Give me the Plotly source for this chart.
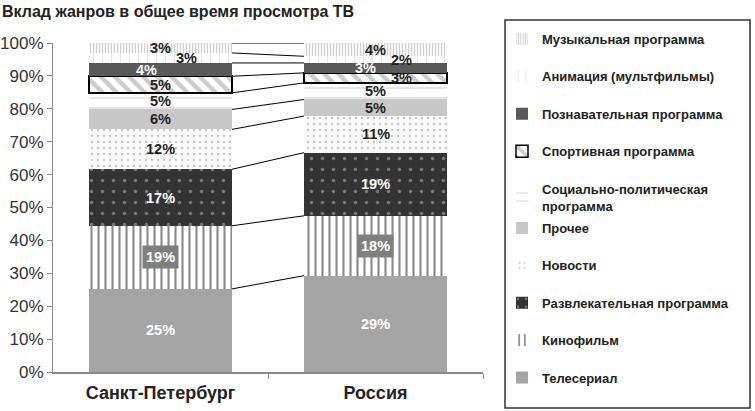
import plotly.graph_objects as go
import numpy as np

categories = ["Санкт-Петербург", "Россия"]
genres = ["Телесериал", "Кинофильм", "Развлекательная программа", "Новости", "Прочее",
          "Социально-политическая<br>программа", "Спортивная программа",
          "Познавательная программа", "Анимация (мультфильмы)", "Музыкальная программа"]
spb = [25, 19, 17, 12, 6, 5, 5, 4, 3, 3]
rus = [29, 18, 19, 11, 5, 5, 3, 3, 2, 4]
tick_labels = ["0%", "10%", "20%", "30%", "40%", "50%", "60%", "70%", "80%", "90%", "100%"]

FONT = "Arial, Liberation Sans, sans-serif"

styles = [
    dict(color="#a5a5a5", pattern=None, line=0, txt="white", box=None, xs=0),
    dict(color="white", pattern=dict(shape="|", fgcolor="#111", bgcolor="white", size=7, solidity=0.3), line=0, txt="white", box="#7f7f7f", xs=0),
    dict(color="#333", pattern=dict(shape=".", fgcolor="#bbbbbb", bgcolor="#333333", size=11, solidity=0.08), line=0, txt="white", box=None, xs=0),
    dict(color="white", pattern=dict(shape=".", fgcolor="#888", bgcolor="white", size=6, solidity=0.12), line=0, txt="#222", box=None, xs=0),
    dict(color="#c8c8c8", pattern=None, line=0, txt="#222", box=None, xs=0),
    dict(color="white", pattern=dict(shape="-", fgcolor="#bbbbbb", bgcolor="white", size=10, solidity=0.15), line=0, txt="#222", box=None, xs=0),
    dict(color="white", pattern=dict(shape="\\", fgcolor="#999", bgcolor="white", size=10, solidity=0.45), line=1.5, txt="#222", box=None, xs=0),
    dict(color="#595959", pattern=None, line=0, txt="white", box=None, xs=-14),
    dict(color="white", pattern=dict(shape="|", fgcolor="#cccccc", bgcolor="white", size=9, solidity=0.12), line=0, txt="#222", box=None, xs=26),
    dict(color="white", pattern=dict(shape="|", fgcolor="#a0a0a0", bgcolor="white", size=3, solidity=0.45), line=0, txt="#222", box=None, xs=0),
]
rus_xs = [0, 0, 0, 0, 0, 0, 26, -10, 26, 0]

xpos = [0, 1]
bw = 0.665
fig = go.Figure()
for i, g in enumerate(genres):
    st = styles[i]
    marker = dict(color=st["color"], line=dict(width=st["line"], color="black"))
    if st["pattern"]:
        marker["pattern"] = st["pattern"]
    fig.add_trace(go.Bar(x=xpos, y=[spb[i], rus[i]], name=g, marker=marker, width=bw,
                         legendgroup=str(i), legendrank=100 - i,
                         legend="legend2" if i >= 5 else "legend", hoverinfo="skip"))

vals = np.array([spb, rus], dtype=float)
norm = vals / vals.sum(axis=1, keepdims=True) * 100
cum = np.cumsum(norm, axis=1)
# connector lines
for j in range(len(genres)):
    fig.add_trace(go.Scatter(x=[bw / 2, 1 - bw / 2], y=[cum[0, j], cum[1, j]], mode="lines",
                             line=dict(color="black", width=1), showlegend=False, hoverinfo="skip"))

# labels
for k in range(2):
    for j in range(len(genres)):
        st = styles[j]
        center = cum[k, j] - norm[k, j] / 2
        val = [spb, rus][k][j]
        xs = st["xs"] if k == 0 else rus_xs[j]
        kw = {}
        if st["box"]:
            kw = dict(bgcolor=st["box"], borderpad=3)
        fig.add_annotation(x=xpos[k], y=center, text=f"<b>{val}%</b>", showarrow=False,
                           xshift=xs, font=dict(family=FONT, size=14.5, color=st["txt"]), **kw)

leg_common = dict(xanchor="left", yanchor="top", traceorder="grouped", tracegroupgap=17.5,
                  font=dict(family=FONT, size=13, color="#222", weight="bold"),
                  bgcolor="rgba(0,0,0,0)", borderwidth=0)
fig.update_layout(
    width=755, height=411,
    margin=dict(l=53, r=272, t=43, b=39, autoexpand=False),
    paper_bgcolor="white", plot_bgcolor="white",
    barmode="stack", barnorm="percent",
    title=dict(text="<b>Вклад жанров в общее время просмотра ТВ</b>", x=0, xanchor="left",
               xref="container", pad=dict(l=2, t=0), y=0.985, yanchor="top",
               font=dict(family=FONT, size=16, color="#222")),
    legend=dict(x=(502 - 53) / 430, y=1 - (213 - 43) / 329, **leg_common),
    legend2=dict(x=(502 - 53) / 430, y=1 + (43 - 24) / 329, **leg_common),
    showlegend=True,
)
fig.update_yaxes(range=[0, 100], tickvals=list(range(0, 101, 10)), ticktext=tick_labels,
                 ticks="outside", ticklen=5, tickcolor="#888", showline=True, linecolor="#888",
                 linewidth=1, showgrid=False, zeroline=False, automargin=False,
                 tickfont=dict(family=FONT, size=17, color="#333"))
fig.update_xaxes(range=[-0.5, 1.5], tickvals=xpos, ticktext=categories, ticks="",
                 showline=True, linecolor="#888", linewidth=1.5, showgrid=False, zeroline=False,
                 automargin=False, ticklabelstandoff=4,
                 tickfont=dict(family=FONT, size=18, color="#222", weight="bold"),
                 minor=dict(tickvals=[0.5, 1.5], ticks="outside", ticklen=5, tickcolor="#888"))
fig.add_shape(type="rect", xref="paper", yref="paper",
              x0=(505 - 53) / 430, x1=(750 - 53) / 430,
              y0=1 - (408 - 43) / 329, y1=1 + (43 - 20) / 329,
              line=dict(color="#333", width=1.5), fillcolor="rgba(0,0,0,0)")
fig.write_html("out.html", post_script="document.body.style.margin='0';",
               config={"displayModeBar": False})
